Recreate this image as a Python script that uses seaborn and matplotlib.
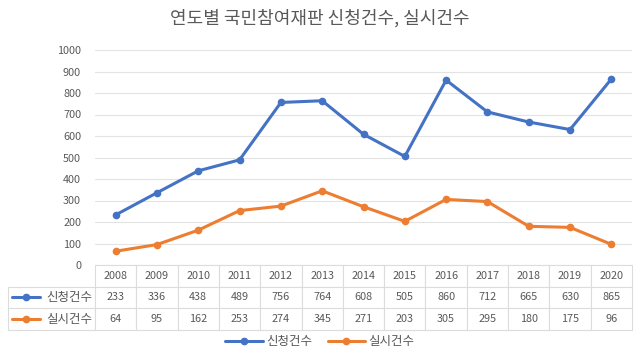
import seaborn as sns
import pandas as pd
import matplotlib.pyplot as plt
from matplotlib.lines import Line2D

years = [2008, 2009, 2010, 2011, 2012, 2013, 2014, 2015, 2016, 2017, 2018, 2019, 2020]
applied = [233, 336, 438, 489, 756, 764, 608, 505, 860, 712, 665, 630, 865]
held = [64, 95, 162, 253, 274, 345, 271, 203, 305, 295, 180, 175, 96]
series_names = ['신청건수', '실시건수']
colors = ['#4472C4', '#ED7D31']

sns.set_style('white')
plt.rcParams['font.family'] = ['Noto Sans CJK KR', 'DejaVu Sans']

df = pd.DataFrame({'idx': list(range(len(years))) * 2,
                   'value': applied + held,
                   'series': [series_names[0]] * len(years) + [series_names[1]] * len(years)})

fig = plt.figure(figsize=(6.4, 3.55), dpi=100)
ax = fig.add_axes([95 / 640, 90 / 355, 537 / 640, 215 / 355])

sns.lineplot(data=df, x='idx', y='value', hue='series', palette=colors,
             marker='o', markersize=5.5, markeredgewidth=0, linewidth=2.2,
             ax=ax, legend=False)

ax.set_xlim(-0.5, len(years) - 0.5)
ax.set_ylim(0, 1000)
ax.set_yticks(range(0, 1001, 100))
ax.set_xticks([])
ax.set_xlabel('')
ax.set_ylabel('')
ax.grid(axis='y', color='#e3e3e3', linewidth=0.8)
ax.set_axisbelow(True)
for s in ax.spines.values():
    s.set_visible(False)
ax.tick_params(axis='y', length=0, labelsize=7.8, labelcolor='#595959', pad=10)

# data table under the plot
cell_text = [[''] + [str(y) for y in years],
             [series_names[0]] + [str(v) for v in applied],
             [series_names[1]] + [str(v) for v in held]]
widths = [87 / 624] + [41.3 / 624] * len(years)
tbl = ax.table(cellText=cell_text, colWidths=widths, cellLoc='center',
               bbox=[(8 - 95) / 537, -65 / 215, 624 / 537, 65 / 215])
tbl.auto_set_font_size(False)
tbl.set_fontsize(7.8)
for (r, c), cell in tbl.get_celld().items():
    cell.set_edgecolor('#dcdcdc')
    cell.set_linewidth(0.8)
    cell.get_text().set_color('#595959')
    if c == 0:
        cell.get_text().set_fontsize(9)
        cell.get_text().set_horizontalalignment('right')
        cell._loc = 'right'
        cell.PAD = 0.03
    if r == 0 and c == 0:
        cell.set_linewidth(0)

# legend keys in the row label cells
for i, col in enumerate(colors):
    yk = 1 - (297 + 22 * i) / 355
    fig.add_artist(Line2D([12 / 640, 40 / 640], [yk, yk], color=col, linewidth=2.2,
                          transform=fig.transFigure))
    fig.add_artist(Line2D([26 / 640], [yk], color=col, marker='o', markersize=4.5,
                          linestyle='', transform=fig.transFigure))

handles = [Line2D([0], [0], color=c, linewidth=2.2, marker='o', markersize=4.5) for c in colors]
fig.legend(handles, series_names, loc='center', bbox_to_anchor=(0.5, 13 / 355), ncol=2,
           frameon=False, fontsize=9, labelcolor='#595959', handlelength=3,
           columnspacing=1.2, handletextpad=0.3)

fig.text(0.5, 1 - 18 / 355, '연도별 국민참여재판 신청건수, 실시건수', ha='center', va='center',
         fontsize=13, color='#595959')

fig.savefig('out.png', dpi=100)
